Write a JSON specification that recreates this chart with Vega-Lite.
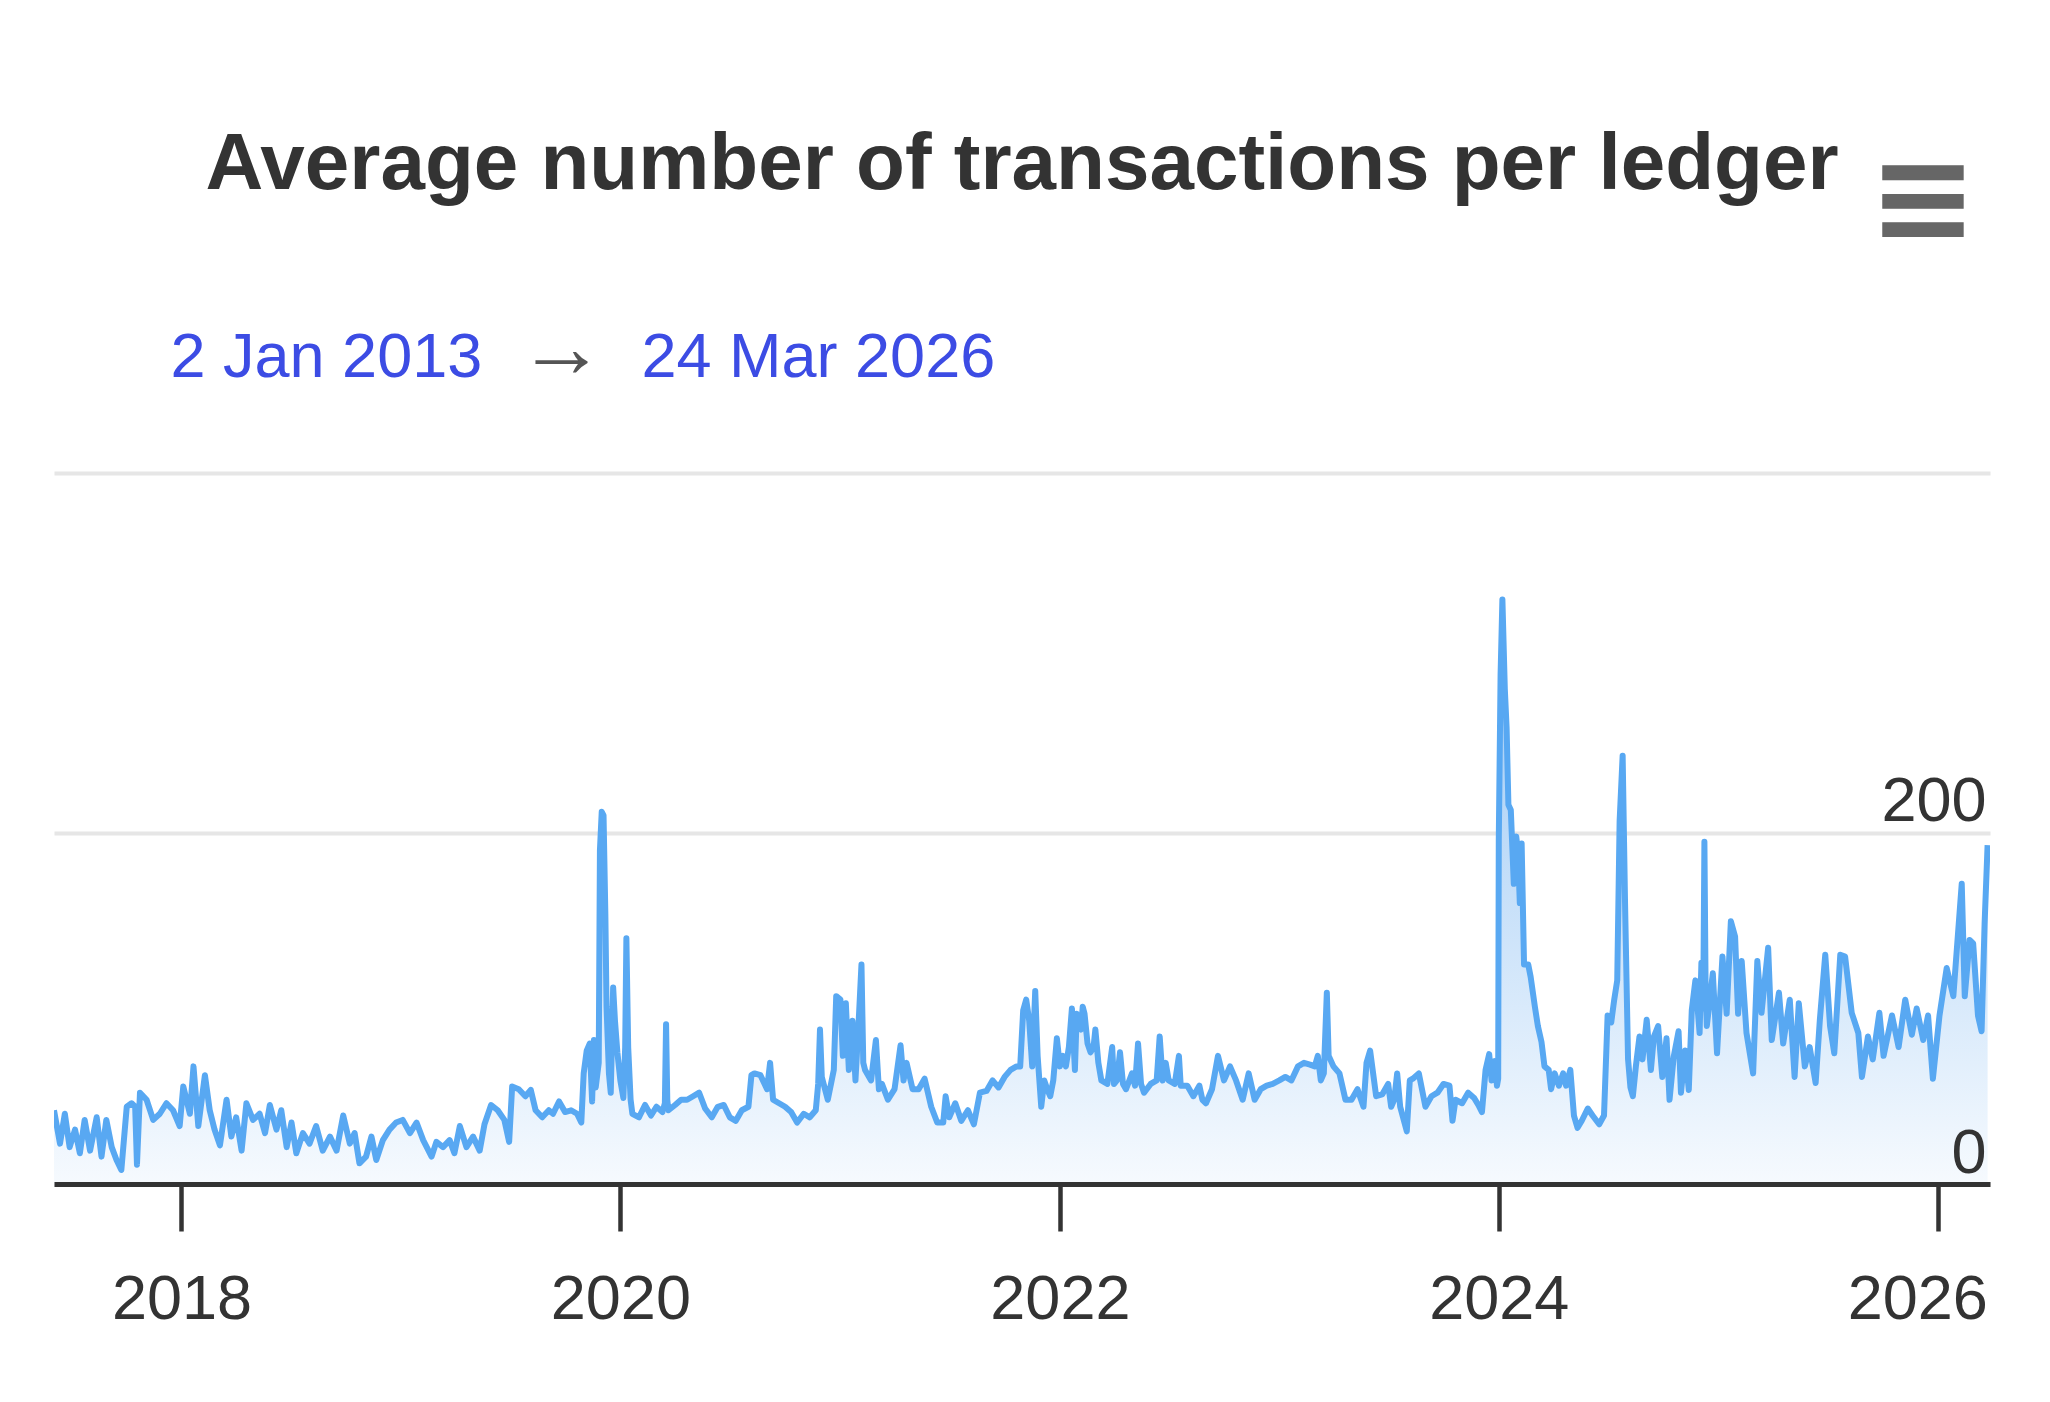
{
  "$schema": "https://vega.github.io/schema/vega-lite/v6.json",
  "width": 1936,
  "height": 711,
  "autosize": {"type": "none"},
  "padding": {"left": 54, "top": 473, "right": 60, "bottom": 218},
  "background": "white",
  "config": {"view": {"stroke": null}, "font": "Liberation Sans"},
  "title": {
    "text": "Average number of transactions per ledger",
    "anchor": "middle",
    "frame": "group",
    "font": "Liberation Sans",
    "fontSize": 80,
    "fontWeight": "bold",
    "color": "#333333",
    "baseline": "alphabetic",
    "offset": -132
  },
  "data": {"values": [
    {"d":"2017-06-03","v":42},{"d":"2017-06-13","v":23},{"d":"2017-06-21","v":40},{"d":"2017-06-29","v":21},{"d":"2017-07-08","v":31},{"d":"2017-07-16","v":17.5},{"d":"2017-07-24","v":36.5},{"d":"2017-08-02","v":19},{"d":"2017-08-13","v":38},{"d":"2017-08-21","v":15.6},{"d":"2017-08-29","v":36.5},{"d":"2017-09-07","v":21},{"d":"2017-09-15","v":13.7},{"d":"2017-09-23","v":8},{"d":"2017-10-02","v":44},{"d":"2017-10-10","v":46},{"d":"2017-10-16","v":44},{"d":"2017-10-19","v":11},{"d":"2017-10-24","v":52},{"d":"2017-11-04","v":48},{"d":"2017-11-15","v":36.5},{"d":"2017-11-26","v":40},{"d":"2017-12-07","v":46},{"d":"2017-12-18","v":42},{"d":"2017-12-29","v":33},
    {"d":"2018-01-04","v":55.5},{"d":"2018-01-15","v":40},{"d":"2018-01-21","v":67},{"d":"2018-01-29","v":33},{"d":"2018-02-09","v":62},{"d":"2018-02-17","v":42},{"d":"2018-02-25","v":31},{"d":"2018-03-06","v":22},{"d":"2018-03-17","v":48},{"d":"2018-03-25","v":27},{"d":"2018-04-02","v":38},{"d":"2018-04-11","v":19},{"d":"2018-04-19","v":46},{"d":"2018-04-30","v":36.5},{"d":"2018-05-11","v":40},{"d":"2018-05-20","v":29},{"d":"2018-05-28","v":45},{"d":"2018-06-08","v":31},{"d":"2018-06-16","v":42},{"d":"2018-06-25","v":21},{"d":"2018-07-03","v":35},{"d":"2018-07-11","v":17.5},{"d":"2018-07-22","v":29},{"d":"2018-08-02","v":23},{"d":"2018-08-13","v":33},{"d":"2018-08-24","v":19},{"d":"2018-09-05","v":27},{"d":"2018-09-16","v":19},{"d":"2018-09-27","v":39},{"d":"2018-10-08","v":23},{"d":"2018-10-16","v":29},{"d":"2018-10-24","v":11.8},{"d":"2018-11-04","v":15.6},{"d":"2018-11-13","v":27},{"d":"2018-11-21","v":13.7},{"d":"2018-12-02","v":25},{"d":"2018-12-13","v":31},{"d":"2018-12-24","v":35},
    {"d":"2019-01-04","v":36.5},{"d":"2019-01-16","v":29},{"d":"2019-01-27","v":35},{"d":"2019-02-07","v":25},{"d":"2019-02-21","v":15.6},{"d":"2019-03-01","v":24},{"d":"2019-03-12","v":21},{"d":"2019-03-23","v":25},{"d":"2019-03-31","v":17.5},{"d":"2019-04-09","v":33},{"d":"2019-04-20","v":21},{"d":"2019-05-01","v":27},{"d":"2019-05-12","v":19},{"d":"2019-05-20","v":34},{"d":"2019-05-31","v":45},{"d":"2019-06-11","v":42},{"d":"2019-06-22","v":36.5},{"d":"2019-06-30","v":24},{"d":"2019-07-05","v":55.5},{"d":"2019-07-16","v":54},{"d":"2019-07-27","v":50},{"d":"2019-08-05","v":53.6},{"d":"2019-08-13","v":42},{"d":"2019-08-24","v":38},{"d":"2019-09-04","v":42},
    {"d":"2019-09-11","v":40},{"d":"2019-09-21","v":47},{"d":"2019-10-01","v":41},{"d":"2019-10-11","v":42},{"d":"2019-10-21","v":40},{"d":"2019-10-28","v":35},{"d":"2019-11-01","v":63},{"d":"2019-11-06","v":76},{"d":"2019-11-11","v":80},{"d":"2019-11-15","v":47},{"d":"2019-11-18","v":82},{"d":"2019-11-21","v":55},{"d":"2019-11-26","v":69},{"d":"2019-11-28","v":190},{"d":"2019-12-01","v":212},{"d":"2019-12-04","v":210},{"d":"2019-12-07","v":154},{"d":"2019-12-09","v":101},{"d":"2019-12-13","v":63},{"d":"2019-12-16","v":52},{"d":"2019-12-18","v":82},{"d":"2019-12-20","v":112},{"d":"2019-12-23","v":93},{"d":"2019-12-27","v":75},
    {"d":"2020-01-01","v":59},{"d":"2020-01-06","v":49},{"d":"2020-01-09","v":78},{"d":"2020-01-11","v":140},{"d":"2020-01-14","v":78},{"d":"2020-01-18","v":48},{"d":"2020-01-21","v":40},{"d":"2020-02-01","v":38},{"d":"2020-02-11","v":45},{"d":"2020-02-21","v":39},{"d":"2020-03-01","v":44},{"d":"2020-03-11","v":41},{"d":"2020-03-15","v":46},{"d":"2020-03-17","v":91},{"d":"2020-03-19","v":48},{"d":"2020-03-21","v":42},{"d":"2020-04-01","v":45},{"d":"2020-04-11","v":48},{"d":"2020-04-21","v":48},{"d":"2020-05-01","v":50},{"d":"2020-05-11","v":52},{"d":"2020-05-21","v":43},{"d":"2020-06-01","v":38},{"d":"2020-06-11","v":44},{"d":"2020-06-21","v":45},{"d":"2020-07-01","v":38},{"d":"2020-07-11","v":36},{"d":"2020-07-21","v":42},{"d":"2020-08-01","v":44},{"d":"2020-08-06","v":62},{"d":"2020-08-11","v":63},{"d":"2020-08-21","v":62},{"d":"2020-09-01","v":54},{"d":"2020-09-06","v":69},{"d":"2020-09-11","v":48},{"d":"2020-09-21","v":46},{"d":"2020-10-01","v":44},{"d":"2020-10-11","v":41},{"d":"2020-10-21","v":35},{"d":"2020-11-01","v":40},{"d":"2020-11-11","v":38},{"d":"2020-11-21","v":42},{"d":"2020-11-25","v":57},{"d":"2020-11-28","v":88},{"d":"2020-12-01","v":61},{"d":"2020-12-11","v":48},{"d":"2020-12-21","v":65},{"d":"2020-12-25","v":107},
    {"d":"2021-01-01","v":105},{"d":"2021-01-05","v":73},{"d":"2021-01-10","v":103},{"d":"2021-01-15","v":65},{"d":"2021-01-21","v":93},{"d":"2021-01-26","v":59},{"d":"2021-02-01","v":97},{"d":"2021-02-05","v":125},{"d":"2021-02-08","v":69},{"d":"2021-02-11","v":65},{"d":"2021-02-21","v":59},{"d":"2021-03-01","v":82},{"d":"2021-03-06","v":54},{"d":"2021-03-11","v":57},{"d":"2021-03-21","v":48},{"d":"2021-04-01","v":54},{"d":"2021-04-11","v":79},{"d":"2021-04-16","v":59},{"d":"2021-04-21","v":69},{"d":"2021-05-01","v":54},{"d":"2021-05-11","v":54},{"d":"2021-05-21","v":60},{"d":"2021-06-01","v":44},{"d":"2021-06-11","v":35},{"d":"2021-06-21","v":35},{"d":"2021-06-25","v":50},{"d":"2021-07-01","v":38},{"d":"2021-07-11","v":46},{"d":"2021-07-21","v":36},{"d":"2021-08-01","v":42},{"d":"2021-08-11","v":34},{"d":"2021-08-21","v":52},{"d":"2021-09-01","v":53},{"d":"2021-09-11","v":59},{"d":"2021-09-21","v":55},{"d":"2021-10-01","v":61},{"d":"2021-10-11","v":65},{"d":"2021-10-21","v":67},{"d":"2021-10-27","v":67},{"d":"2021-11-01","v":99},{"d":"2021-11-06","v":105},{"d":"2021-11-11","v":93},{"d":"2021-11-16","v":67},{"d":"2021-11-21","v":110},{"d":"2021-11-25","v":73},
    {"d":"2021-12-01","v":44},{"d":"2021-12-06","v":59},{"d":"2021-12-11","v":54},{"d":"2021-12-16","v":50},{"d":"2021-12-21","v":59},{"d":"2021-12-27","v":83},
    {"d":"2022-01-01","v":67},{"d":"2022-01-06","v":73},{"d":"2022-01-11","v":67},{"d":"2022-01-16","v":78},{"d":"2022-01-21","v":100},{"d":"2022-01-26","v":65},{"d":"2022-01-29","v":97},{"d":"2022-02-01","v":90},{"d":"2022-02-05","v":88},{"d":"2022-02-08","v":101},{"d":"2022-02-11","v":97},{"d":"2022-02-16","v":80},{"d":"2022-02-21","v":75},{"d":"2022-02-26","v":78},{"d":"2022-03-01","v":88},{"d":"2022-03-06","v":69},{"d":"2022-03-11","v":59},{"d":"2022-03-21","v":57},{"d":"2022-03-29","v":78},{"d":"2022-04-01","v":57},{"d":"2022-04-06","v":59},{"d":"2022-04-11","v":75},{"d":"2022-04-16","v":57},{"d":"2022-04-21","v":54},{"d":"2022-05-01","v":63},{"d":"2022-05-06","v":56},{"d":"2022-05-11","v":80},{"d":"2022-05-16","v":57},{"d":"2022-05-21","v":52},{"d":"2022-06-01","v":57},{"d":"2022-06-11","v":59},{"d":"2022-06-16","v":84},{"d":"2022-06-21","v":59},{"d":"2022-06-26","v":69},{"d":"2022-07-01","v":59},{"d":"2022-07-11","v":57},{"d":"2022-07-18","v":73},{"d":"2022-07-21","v":56},{"d":"2022-08-01","v":56},{"d":"2022-08-11","v":50},{"d":"2022-08-21","v":56},{"d":"2022-08-26","v":48},{"d":"2022-09-01","v":46},{"d":"2022-09-11","v":54},{"d":"2022-09-21","v":73},{"d":"2022-10-01","v":59},{"d":"2022-10-11","v":67},{"d":"2022-10-21","v":59},{"d":"2022-11-01","v":48},{"d":"2022-11-11","v":63},{"d":"2022-11-21","v":48},{"d":"2022-12-01","v":54},{"d":"2022-12-11","v":56},{"d":"2022-12-21","v":57},
    {"d":"2023-01-01","v":59},{"d":"2023-01-11","v":61},{"d":"2023-01-21","v":59},{"d":"2023-02-01","v":67},{"d":"2023-02-11","v":69},{"d":"2023-02-21","v":68},{"d":"2023-03-01","v":67},{"d":"2023-03-06","v":73},{"d":"2023-03-11","v":59},{"d":"2023-03-16","v":63},{"d":"2023-03-21","v":109},{"d":"2023-03-24","v":73},{"d":"2023-04-01","v":67},{"d":"2023-04-11","v":63},{"d":"2023-04-21","v":48},{"d":"2023-05-01","v":48},{"d":"2023-05-11","v":54},{"d":"2023-05-21","v":44},{"d":"2023-05-26","v":69},{"d":"2023-06-01","v":76},{"d":"2023-06-06","v":63},{"d":"2023-06-11","v":50},{"d":"2023-06-21","v":51},{"d":"2023-07-01","v":57},{"d":"2023-07-06","v":44},{"d":"2023-07-11","v":48},{"d":"2023-07-16","v":63},{"d":"2023-07-21","v":44},{"d":"2023-08-01","v":30},{"d":"2023-08-06","v":59},{"d":"2023-08-11","v":60},{"d":"2023-08-21","v":63},{"d":"2023-09-01","v":44},{"d":"2023-09-11","v":50},{"d":"2023-09-21","v":52},{"d":"2023-10-01","v":57},{"d":"2023-10-11","v":56},{"d":"2023-10-16","v":36},{"d":"2023-10-21","v":48},{"d":"2023-11-01","v":46},{"d":"2023-11-11","v":52},{"d":"2023-11-21","v":49},{"d":"2023-11-28","v":45},{"d":"2023-12-04","v":41},{"d":"2023-12-10","v":65},{"d":"2023-12-16","v":74},{"d":"2023-12-20","v":59},{"d":"2023-12-25","v":70},{"d":"2023-12-29","v":56},{"d":"2023-12-31","v":60},
    {"d":"2024-01-01","v":196},{"d":"2024-01-04","v":290},{"d":"2024-01-07","v":333},{"d":"2024-01-11","v":282},{"d":"2024-01-14","v":260},{"d":"2024-01-17","v":216},{"d":"2024-01-21","v":213},{"d":"2024-01-26","v":171},{"d":"2024-01-30","v":198},{"d":"2024-02-02","v":189},{"d":"2024-02-05","v":160},{"d":"2024-02-08","v":194},{"d":"2024-02-12","v":125},{"d":"2024-02-19","v":125},{"d":"2024-02-23","v":118},{"d":"2024-03-01","v":101},{"d":"2024-03-06","v":90},{"d":"2024-03-12","v":81},{"d":"2024-03-17","v":67},{"d":"2024-03-24","v":65},{"d":"2024-03-28","v":54},{"d":"2024-04-03","v":63},{"d":"2024-04-10","v":56},{"d":"2024-04-17","v":63},{"d":"2024-04-22","v":56},{"d":"2024-04-29","v":65},{"d":"2024-05-05","v":39},{"d":"2024-05-11","v":32},{"d":"2024-05-18","v":36},{"d":"2024-05-28","v":43},{"d":"2024-06-05","v":39},{"d":"2024-06-16","v":34},{"d":"2024-06-24","v":39},{"d":"2024-06-30","v":96},{"d":"2024-07-06","v":92},{"d":"2024-07-11","v":105},{"d":"2024-07-16","v":116},{"d":"2024-07-20","v":207},{"d":"2024-07-25","v":244},{"d":"2024-07-29","v":160},
    {"d":"2024-08-03","v":71},{"d":"2024-08-07","v":55},{"d":"2024-08-11","v":50},{"d":"2024-08-16","v":67},{"d":"2024-08-22","v":84},{"d":"2024-08-27","v":71},{"d":"2024-09-03","v":93.5},{"d":"2024-09-10","v":65},{"d":"2024-09-15","v":84},{"d":"2024-09-22","v":90},{"d":"2024-09-29","v":61},{"d":"2024-10-06","v":83},{"d":"2024-10-11","v":48},{"d":"2024-10-18","v":72.6},{"d":"2024-10-26","v":87},{"d":"2024-10-30","v":52},{"d":"2024-11-06","v":76},{"d":"2024-11-12","v":53.6},{"d":"2024-11-17","v":99},{"d":"2024-11-23","v":116},{"d":"2024-11-30","v":86},{"d":"2024-12-03","v":126},{"d":"2024-12-06","v":100},{"d":"2024-12-08","v":195},{"d":"2024-12-10","v":110},{"d":"2024-12-12","v":90},{"d":"2024-12-22","v":120},{"d":"2024-12-29","v":74.5},
    {"d":"2025-01-07","v":129.6},{"d":"2025-01-14","v":97},{"d":"2025-01-21","v":149.6},{"d":"2025-01-28","v":141},{"d":"2025-02-02","v":97},{"d":"2025-02-08","v":127},{"d":"2025-02-16","v":86},{"d":"2025-02-27","v":63},{"d":"2025-03-06","v":127},{"d":"2025-03-13","v":97.5},{"d":"2025-03-24","v":134.6},{"d":"2025-03-30","v":82},{"d":"2025-04-11","v":109},{"d":"2025-04-18","v":80},{"d":"2025-04-29","v":105},{"d":"2025-05-07","v":61},{"d":"2025-05-14","v":103},{"d":"2025-05-24","v":67},{"d":"2025-06-01","v":78},{"d":"2025-06-11","v":57.5},{"d":"2025-06-18","v":93.5},{"d":"2025-06-27","v":130.6},{"d":"2025-07-05","v":90},{"d":"2025-07-12","v":74.5},{"d":"2025-07-22","v":130.6},{"d":"2025-07-30","v":129.6},{"d":"2025-08-10","v":97.5},{"d":"2025-08-21","v":86},{"d":"2025-08-27","v":61},{"d":"2025-09-06","v":84},{"d":"2025-09-14","v":71},{"d":"2025-09-25","v":97.5},{"d":"2025-10-02","v":73},{"d":"2025-10-16","v":96},{"d":"2025-10-27","v":78},{"d":"2025-11-07","v":105},{"d":"2025-11-18","v":85},{"d":"2025-11-26","v":100},{"d":"2025-12-07","v":82},{"d":"2025-12-15","v":96},{"d":"2025-12-23","v":60},
    {"d":"2026-01-03","v":96},{"d":"2026-01-15","v":123},{"d":"2026-01-26","v":107},{"d":"2026-02-09","v":171},{"d":"2026-02-14","v":107},{"d":"2026-02-22","v":139},{"d":"2026-02-28","v":137},{"d":"2026-03-08","v":96},{"d":"2026-03-14","v":87},{"d":"2026-03-19","v":148},{"d":"2026-03-24","v":193}
  ]},
  "layer": [
    {
      "mark": {
        "type": "area",
        "clip": true,
        "color": {
          "gradient": "linear",
          "x1": 0, "y1": 1, "x2": 0, "y2": 0,
          "stops": [
            {"offset": 0, "color": "#f6fafe"},
            {"offset": 1, "color": "#96c5f4"}
          ]
        }
      },
      "encoding": {
        "x": {
          "field": "d",
          "type": "temporal",
          "scale": {"type": "utc", "domain": [{"year": 2017, "month": 6, "date": 3, "utc": true}, {"year": 2026, "month": 3, "date": 28, "utc": true}]},
          "axis": {
            "orient": "bottom",
            "zindex": 1,
            "format": "%Y",
            "tickCount": {"interval": "year", "step": 2},
            "grid": false,
            "labelFont": "Liberation Sans",
            "labelFontSize": 63,
            "labelColor": "#333333",
            "labelPadding": 87,
            "labelBaseline": "alphabetic",
            "labelFlush": 60,
            "labelFlushOffset": 49,
            "labelOverlap": false,
            "tickSize": 47,
            "tickWidth": 4.5,
            "tickColor": "#333333",
            "domainColor": "#333333",
            "domainWidth": 5,
            "title": "→",
            "titleX": 463,
            "titleY": -808,
            "titleAlign": "left",
            "titleAngle": 0,
            "titleBaseline": "alphabetic",
            "titleFont": "Liberation Sans",
            "titleFontSize": 88,
            "titleFontWeight": "normal",
            "titleColor": "#555555"
          }
        },
        "y": {
          "field": "v",
          "type": "quantitative",
          "scale": {"domain": [0, 405], "nice": false, "zero": true},
          "axis": {
            "orient": "right",
            "zindex": 1,
            "values": [0, 200],
            "grid": false,
            "ticks": false,
            "tickSize": 0,
            "domain": false,
            "labelAlign": "right",
            "labelPadding": -4,
            "labelBaseline": "alphabetic",
            "labelOffset": -12,
            "labelOverlap": false,
            "labelBound": false,
            "labelFlush": false,
            "labelFont": "Liberation Sans",
            "labelFontSize": 63,
            "labelColor": "#333333",
            "title": "2 Jan 2013",
            "titleX": -1820,
            "titleY": -97,
            "titleAngle": 0,
            "titleAlign": "left",
            "titleBaseline": "alphabetic",
            "titleFont": "Liberation Sans",
            "titleFontSize": 63,
            "titleFontWeight": "normal",
            "titleColor": "#3c4ce4"
          }
        }
      }
    },
    {
      "mark": {"type": "line", "clip": true, "color": "#58a8f2", "strokeWidth": 6, "strokeJoin": "round"},
      "encoding": {
        "x": {
          "field": "d",
          "type": "temporal",
          "scale": {"type": "utc", "domain": [{"year": 2017, "month": 6, "date": 3, "utc": true}, {"year": 2026, "month": 3, "date": 28, "utc": true}]},
          "axis": {
            "orient": "top",
            "grid": false,
            "labels": false,
            "ticks": false,
            "domain": false,
            "title": "24 Mar 2026",
            "titleX": 587,
            "titleY": -97,
            "titleAlign": "left",
            "titleAngle": 0,
            "titleBaseline": "alphabetic",
            "titleFont": "Liberation Sans",
            "titleFontSize": 63,
            "titleFontWeight": "normal",
            "titleColor": "#3c4ce4"
          }
        },
        "y": {
          "field": "v",
          "type": "quantitative",
          "scale": {"domain": [0, 405], "nice": false, "zero": true},
          "axis": {
            "orient": "left",
            "values": [0, 200, 405],
            "grid": true,
            "gridColor": "#e6e6e6",
            "gridWidth": 4,
            "labels": false,
            "ticks": false,
            "domain": false,
            "title": "≡",
            "titleX": 1814,
            "titleY": -232,
            "titleAngle": 0,
            "titleAlign": "left",
            "titleBaseline": "alphabetic",
            "titleFont": "DejaVu Sans",
            "titleFontSize": 130,
            "titleFontWeight": "bold",
            "titleColor": "#666666"
          }
        }
      }
    }
  ],
  "resolve": {"scale": {"x": "independent", "y": "independent"}}
}
